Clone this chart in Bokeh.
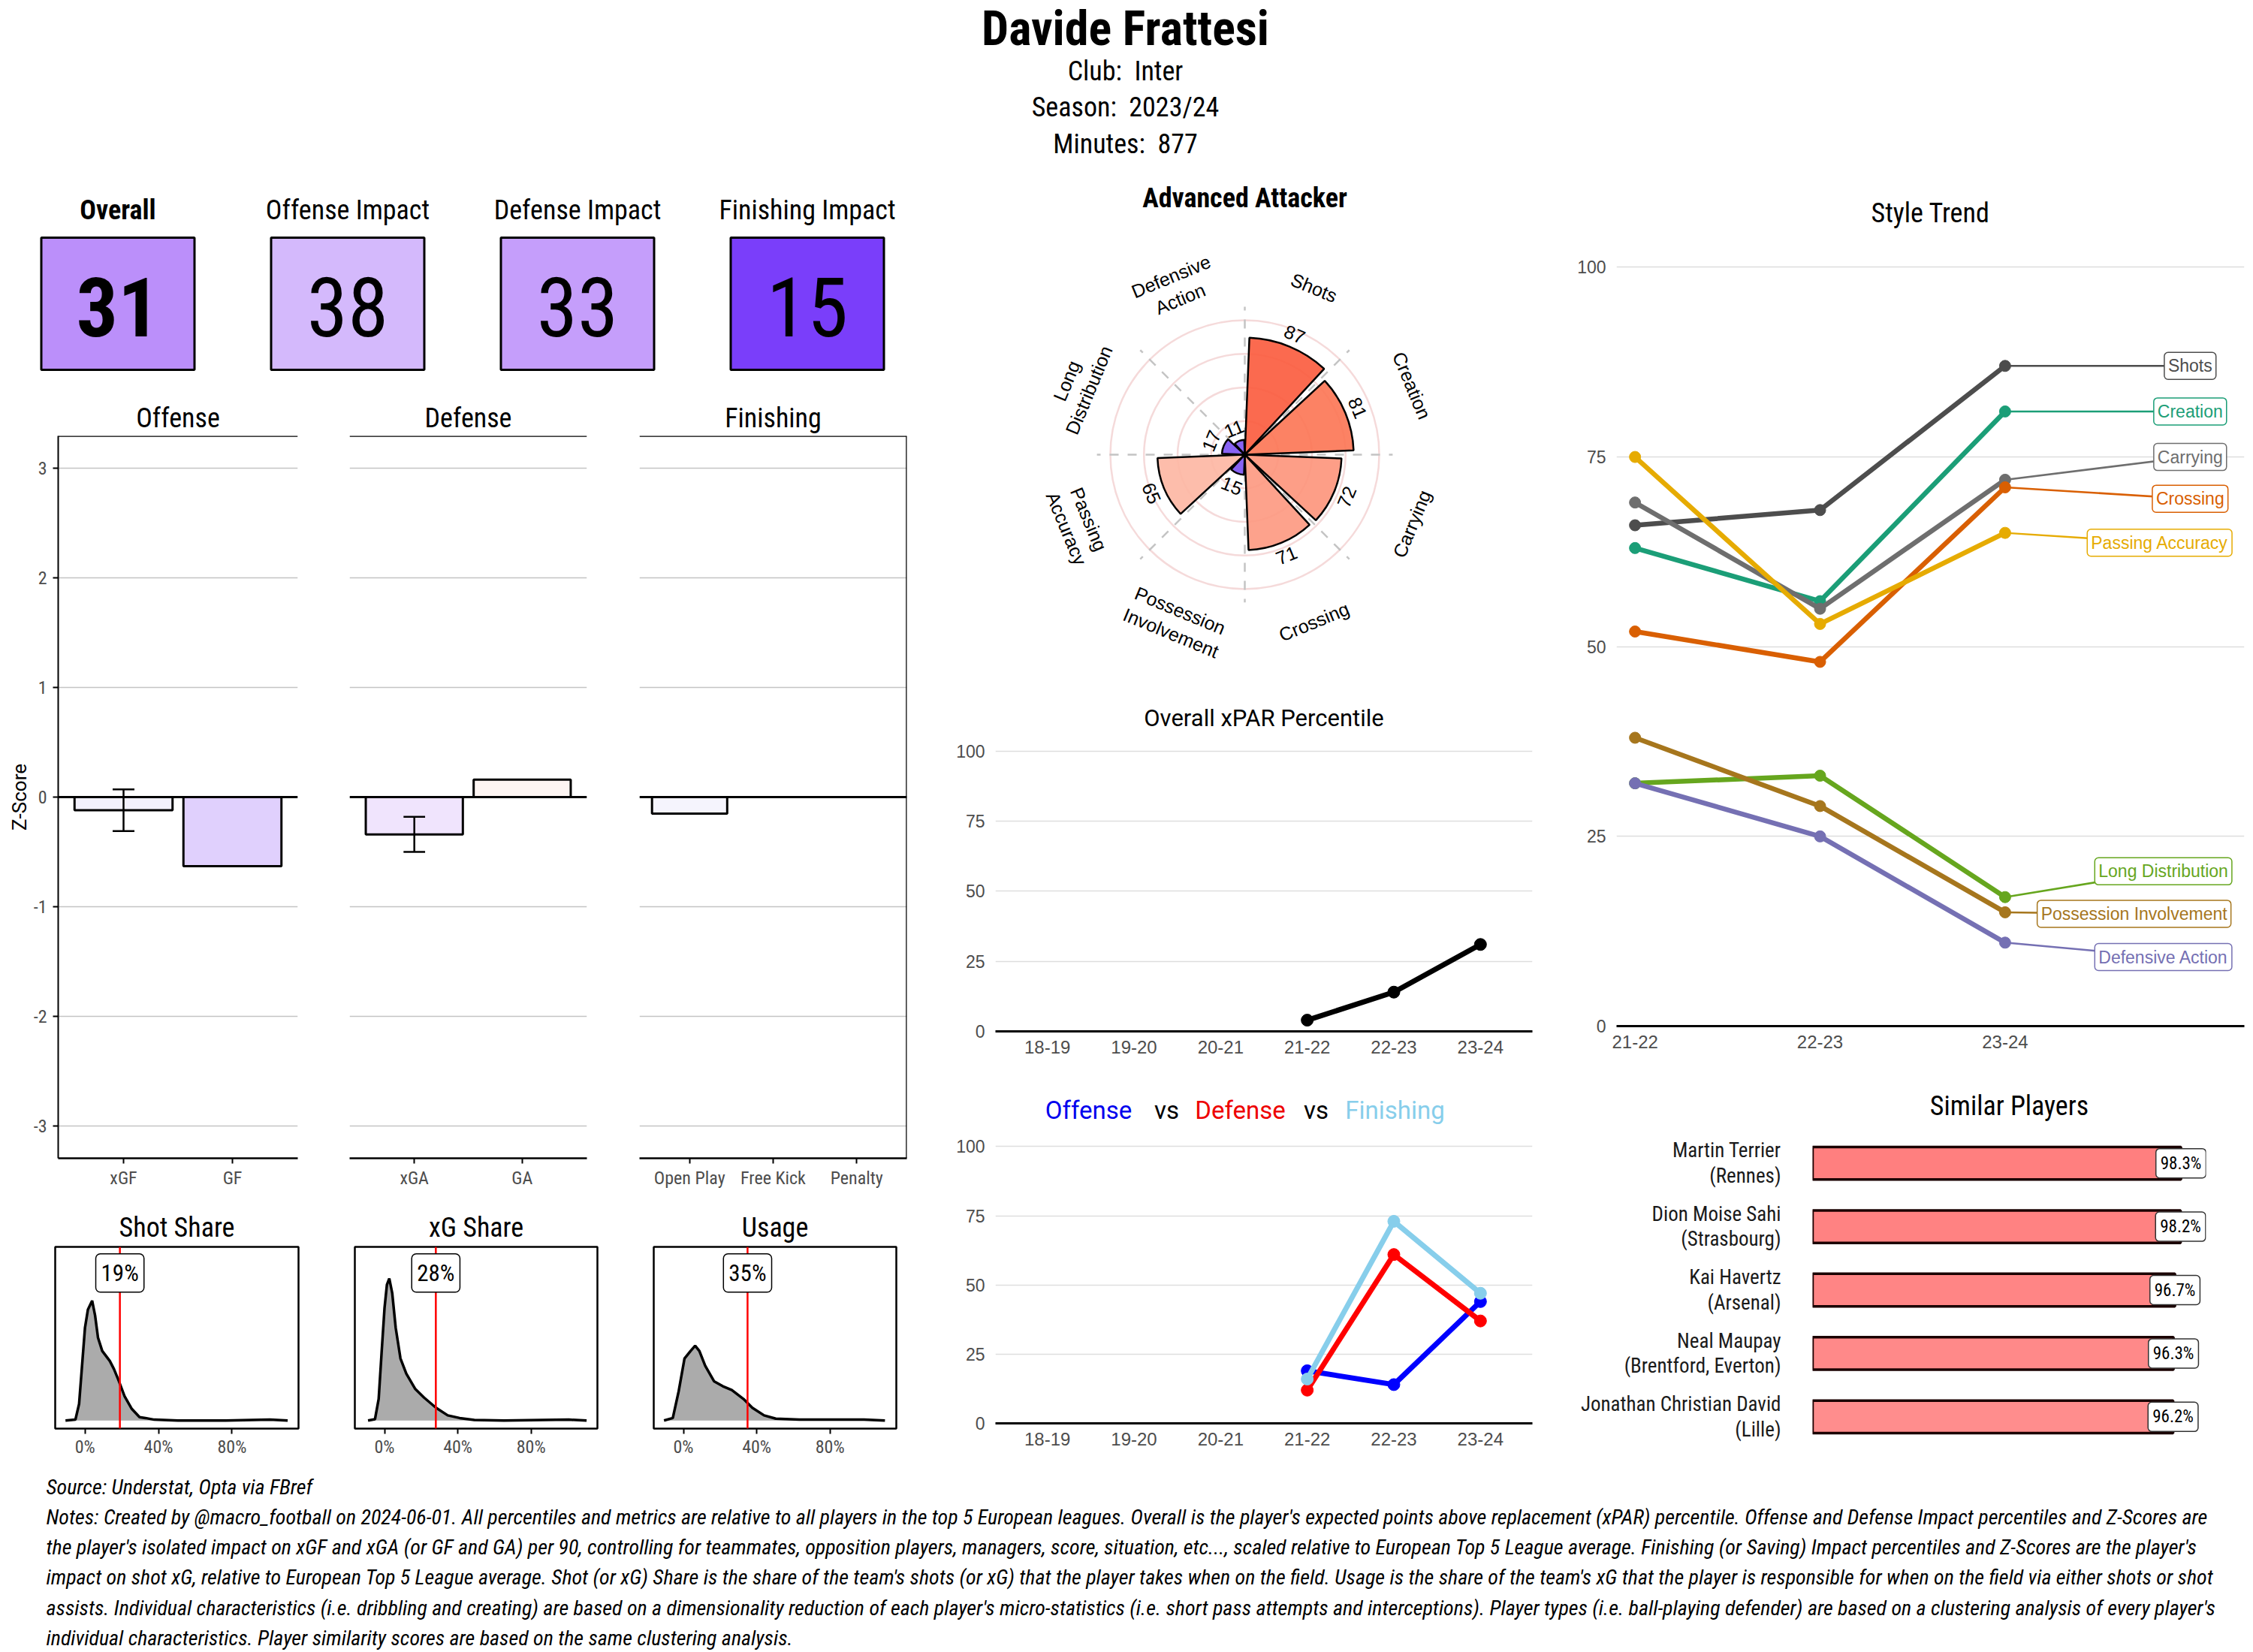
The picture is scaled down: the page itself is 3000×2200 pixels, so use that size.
import numpy as np
from bokeh.plotting import figure
from bokeh.layouts import row, column
from bokeh.models import (Range1d, FixedTicker, Span, Label, Grid, LinearAxis, Title,
                          NumeralTickFormatter)
from bokeh.core.properties import value
from bokeh.embed import file_html
from bokeh.resources import INLINE

COND = "'Liberation Sans Narrow', 'Roboto Condensed', Roboto, sans-serif"
ARIAL = "'Liberation Sans', Arial, sans-serif"
ROBOTO = "Roboto, sans-serif"
GRAYTXT = "#4D4D4D"
NBSP = "\u00a0"

# ---------------- data ----------------
player_name = "Davide Frattesi"
club_name = "Inter"
season_name = "2023/24"
minutes_played = 877

score_labels = ["Overall", "Offense Impact", "Defense Impact", "Finishing Impact"]
score_values = [31, 38, 33, 15]
score_colors = ["#BB8FFA", "#D4B9FC", "#C59EFB", "#7A3EFA"]

z_ticks = [-3, -2, -1, 0, 1, 2, 3]
off_cats = ["xGF", "GF"]
off_vals = [-0.12, -0.63]
off_colors = ["#F3F1FD", "#E0D0FD"]
off_err_cat = ["xGF"]
off_err_lo = [-0.31]
off_err_hi = [0.07]
def_cats = ["xGA", "GA"]
def_vals = [-0.34, 0.16]
def_colors = ["#F0E4FD", "#FDF5F2"]
def_err_cat = ["xGA"]
def_err_lo = [-0.50]
def_err_hi = [-0.18]
fin_cats = ["Open Play", "Free Kick", "Penalty"]
fin_vals = [-0.15, 0.0, 0.0]
fin_colors = ["#F5F4FD", "#FFFFFF", "#FFFFFF"]

share_titles = ["Shot Share", "xG Share", "Usage"]
share_values = [0.19, 0.28, 0.35]
shot_dens_x = [-0.106, -0.052, -0.032, -0.016, 0.0, 0.016, 0.039, 0.055, 0.071, 0.094, 0.135,
               0.158, 0.184, 0.216, 0.255, 0.297, 0.329, 0.377, 0.506, 0.765, 1.006, 1.103]
shot_dens_y = [0.0, 0.005, 0.10, 0.33, 0.56, 0.67, 0.724, 0.635, 0.50, 0.42, 0.36,
               0.31, 0.24, 0.145, 0.07, 0.02, 0.015, 0.005, 0.0, 0.0, 0.005, 0.0]
xg_dens_x = [-0.09, -0.052, -0.032, -0.016, 0.0, 0.013, 0.026, 0.042, 0.061, 0.087, 0.119,
             0.168, 0.216, 0.281, 0.345, 0.41, 0.49, 0.652, 1.006, 1.103]
xg_dens_y = [0.0, 0.008, 0.13, 0.41, 0.68, 0.82, 0.858, 0.77, 0.56, 0.375, 0.283,
             0.19, 0.138, 0.077, 0.031, 0.015, 0.003, 0.0, 0.005, 0.0]
usage_dens_x = [-0.106, -0.058, -0.026, 0.006, 0.039, 0.064, 0.087, 0.119, 0.167, 0.215,
                0.264, 0.328, 0.376, 0.44, 0.504, 0.632, 0.986, 1.10]
usage_dens_y = [0.0, 0.015, 0.176, 0.375, 0.42, 0.452, 0.42, 0.33, 0.237, 0.207,
                0.184, 0.13, 0.077, 0.031, 0.011, 0.005, 0.005, 0.0]

radar_title = "Advanced Attacker"
radar_cats = ["Shots", "Creation", "Carrying", "Crossing", "Possession\nInvolvement",
              "Passing\nAccuracy", "Long\nDistribution", "Defensive\nAction"]
radar_vals = [87, 81, 72, 71, 15, 65, 17, 11]
radar_colors = ["#FB5A3C", "#FC7453", "#FD937A", "#FD987F", "#7B52F3",
                "#FDB6A2", "#7B52F3", "#7B52F3"]

seasons = ["18-19", "19-20", "20-21", "21-22", "22-23", "23-24"]
xpar_seasons = ["21-22", "22-23", "23-24"]
xpar_vals = [4, 14, 31]
offense_pct = [19, 14, 44]
defense_pct = [12, 61, 37]
finishing_pct = [16, 73, 47]

style_seasons = ["21-22", "22-23", "23-24"]
style_names = ["Shots", "Creation", "Carrying", "Crossing", "Passing Accuracy",
               "Long Distribution", "Possession Involvement", "Defensive Action"]
shots_t = [66, 68, 87]
creation_t = [63, 56, 81]
carrying_t = [69, 55, 72]
crossing_t = [52, 48, 71]
passing_t = [75, 53, 65]
longdist_t = [32, 33, 17]
possession_t = [38, 29, 15]
defensive_t = [32, 25, 11]
style_colors = ["#4D4D4D", "#1B9E77", "#6E6E6E", "#D95F02", "#E6AB02",
                "#66A61E", "#A6761D", "#7570B3"]
style_label_x = [4.0, 4.0, 4.0, 4.0, 3.835, 3.855, 3.697, 3.855]
style_label_y = [87, 81, 75, 69.5, 63.7, 20.4, 14.8, 9.1]

similar_names = ["Martin Terrier\n(Rennes)", "Dion Moise Sahi\n(Strasbourg)",
                 "Kai Havertz\n(Arsenal)", "Neal Maupay\n(Brentford, Everton)",
                 "Jonathan Christian David\n(Lille)"]
similar_vals = [98.3, 98.2, 96.7, 96.3, 96.2]
similar_colors = ["#FF7F7F", "#FF8282", "#FF8585", "#FF8989", "#FF8D8D"]

notes_lines = [
    "Source: Understat, Opta via FBref",
    "Notes: Created by @macro_football on 2024-06-01. All percentiles and metrics are relative to all players in the top 5 European leagues. Overall is the player's expected points above replacement (xPAR) percentile. Offense and Defense Impact percentiles and Z-Scores are",
    "the player's isolated impact on xGF and xGA (or GF and GA) per 90, controlling for teammates, opposition players, managers, score, situation, etc..., scaled relative to European Top 5 League average. Finishing (or Saving) Impact percentiles and Z-Scores are the player's",
    "impact on shot xG, relative to European Top 5 League average. Shot (or xG) Share is the share of the team's shots (or xG) that the player takes when on the field. Usage is the share of the team's xG that the player is responsible for when on the field via either shots or shot",
    "assists. Individual characteristics (i.e. dribbling and creating) are based on a dimensionality reduction of each player's micro-statistics (i.e. short pass attempts and interceptions). Player types (i.e. ball-playing defender) are based on a clustering analysis of every player's",
    "individual characteristics. Player similarity scores are based on the same clustering analysis.",
]


# ---------------- helpers ----------------
def base(w, h, xr, yr, l=0, r=0, t=0, b=0):
    p = figure(width=w, height=h, x_range=xr, y_range=yr, output_backend="svg",
               toolbar_location=None, x_axis_location=None, y_axis_location=None,
               min_border_left=l, min_border_right=r, min_border_top=t, min_border_bottom=b)
    p.outline_line_color = None
    p.grid.visible = False
    p.background_fill_color = "white"
    p.border_fill_color = "white"
    return p


def set_title(p, text, font=COND, size="36px", style="normal", standoff=6):
    p.title = Title(text=text, align="center", text_font=font, text_font_size=size,
                    text_font_style=style, text_color="black", standoff=standoff)


def hgrid(p, ticks, color="#DDDDDD", width=1.5):
    p.add_layout(Grid(dimension=1, ticker=FixedTicker(ticks=ticks),
                      grid_line_color=color, grid_line_width=width))


def style_axis(ax, font, size, color=GRAYTXT, line=None, lw=2.5, tick_out=0, standoff=8):
    ax.major_label_text_font = font
    ax.major_label_text_font_size = size
    ax.major_label_text_color = color
    ax.axis_line_color = line
    ax.axis_line_width = lw
    ax.major_tick_out = tick_out
    ax.major_tick_in = 0
    ax.major_tick_line_color = "black" if tick_out else None
    ax.major_tick_line_width = 2
    ax.minor_tick_line_color = None
    ax.major_label_standoff = standoff


# ---------------- header ----------------
header = base(3000, 223, Range1d(0, 3000), Range1d(0, 223))
header.text(x=[1498], y=[185], text=[player_name], text_font=value(COND), text_font_size="64px",
            text_font_style="bold", text_align="center", text_baseline="middle", text_color="black")
header.text(x=[1498, 1498, 1498], y=[129, 81, 32],
            text=["Club:" + NBSP + " " + club_name, "Season:" + NBSP + " " + season_name,
                  "Minutes:" + NBSP + " " + str(minutes_played)],
            text_font=value(COND), text_font_size="36px", text_align="center",
            text_baseline="middle", text_color="black")

# ---------------- score boxes ----------------
sc = base(1248, 297, Range1d(0.4886, 4.567), Range1d(0, 297))
sidx = list(range(1, len(score_values) + 1))
sc.rect(x=sidx, y=[116] * 4, width=204, height=176, width_units="screen", height_units="screen",
        fill_color=score_colors, line_color="black", line_width=3)
sc.text(x=sidx, y=[112] * 4, text=[str(v) for v in score_values], text_font=value(COND),
        text_font_size="110px", text_font_style=["bold", "normal", "normal", "normal"],
        text_align="center", text_baseline="middle", text_color="black")
sc.text(x=sidx, y=[241] * 4, text=score_labels, text_font=value(COND), text_font_size="36px",
        text_font_style=["bold", "normal", "normal", "normal"], text_align="center",
        text_baseline="middle", text_color="black")


# ---------------- z-score facets ----------------
def zpanel(w, l, r, cats, vals, colors, title, err_cat, err_lo, err_hi, left_axis=False, right_border=False):
    n = len(cats)
    p = base(w, 1080, Range1d(0.4, n + 0.6), Range1d(-3.295, 3.295), l=l, r=r, t=60, b=58)
    hgrid(p, z_ticks, color="#C4C4C4", width=1.5)
    xs = list(range(1, n + 1))
    p.vbar(x=xs, top=vals, bottom=0, width=0.9, fill_color=colors, line_color="black", line_width=3)
    ex = [cats.index(c) + 1 for c in err_cat]
    p.segment(x0=ex, y0=err_lo, x1=ex, y1=err_hi, line_color="black", line_width=2.5)
    p.segment(x0=[e - 0.1 for e in ex] * 2, y0=err_lo + err_hi,
              x1=[e + 0.1 for e in ex] * 2, y1=err_lo + err_hi, line_color="black", line_width=2.5)
    p.add_layout(Span(location=0, dimension="width", line_color="black", line_width=3))
    p.add_layout(Span(location=3.295, dimension="width", line_color="black", line_width=2.5))
    if right_border:
        p.add_layout(Span(location=n + 0.6, dimension="height", line_color="black", line_width=2.5))
    ax = LinearAxis(ticker=FixedTicker(ticks=xs), major_label_overrides={i + 1: c for i, c in enumerate(cats)})
    style_axis(ax, COND, "24px", line="black", tick_out=7, standoff=5)
    p.add_layout(ax, "below")
    if left_axis:
        ay = LinearAxis(ticker=FixedTicker(ticks=z_ticks),
                        major_label_overrides={t: str(t) for t in z_ticks})
        style_axis(ay, COND, "24px", line="black", lw=2, tick_out=7, standoff=8)
        ay.axis_label = "Z-Score"
        ay.axis_label_text_font = ROBOTO
        ay.axis_label_text_font_size = "26px"
        ay.axis_label_text_font_style = "normal"
        ay.axis_label_text_color = "black"
        ay.axis_label_standoff = 1
        p.add_layout(ay, "left")
    set_title(p, title, standoff=5)
    return p


zoff = zpanel(428, 77, 32, off_cats, off_vals, off_colors, "Offense", off_err_cat, off_err_lo, off_err_hi,
              left_axis=True)
zdef = zpanel(388, 37, 35, def_cats, def_vals, def_colors, "Defense", def_err_cat, def_err_lo, def_err_hi)
zfin = zpanel(432, 35, 41, fin_cats, fin_vals, fin_colors, "Finishing", [], [], [], right_border=True)


# ---------------- density panels ----------------
def dpanel(w, l, r, xs, ys, val, title):
    p = base(w, 358, Range1d(-0.162, 1.162), Range1d(-0.049, 1.049), l=l, r=r, t=60, b=56)
    p.outline_line_color = "black"
    p.outline_line_width = 2.5
    p.varea(x=xs, y1=[0] * len(xs), y2=ys, fill_color="#ABABAB")
    p.line(x=xs, y=ys, line_color="black", line_width=3.5)
    p.add_layout(Span(location=val, dimension="height", line_color="#FF0000", line_width=2.5))
    p.add_layout(Label(x=val, y=0.891, text=f"{round(val * 100)}%", text_align="center",
                       text_baseline="middle", text_font=COND, text_font_size="31px", text_color="black",
                       background_fill_color="white", border_line_color="black", border_line_width=1.5,
                       padding=7, border_radius=6))
    ax = LinearAxis(ticker=FixedTicker(ticks=[0, 0.4, 0.8]), formatter=NumeralTickFormatter(format="0%"))
    style_axis(ax, COND, "24px", line=None, tick_out=7, standoff=3)
    p.add_layout(ax, "below")
    set_title(p, title, standoff=9)
    return p


d1 = dpanel(438, 73, 41, shot_dens_x, shot_dens_y, share_values[0], share_titles[0])
d2 = dpanel(400, 34, 43, xg_dens_x, xg_dens_y, share_values[1], share_titles[1])
d3 = dpanel(410, 32, 55, usage_dens_x, usage_dens_y, share_values[2], share_titles[2])

# ---------------- radar ----------------
rd = base(820, 697, Range1d(-228.5, 229.6), Range1d(-176, 213.4))
rd.circle(x=[0] * 4, y=[0] * 4, radius=[25, 50, 75, 100], fill_color=None,
          line_color="#F5DADA", line_width=2.5)
nr = len(radar_vals)
step = 360.0 / nr
bounds = [i * step for i in range(nr)]
rd.segment(x0=[0] * nr, y0=[0] * nr, x1=[110 * np.sin(np.deg2rad(b)) for b in bounds],
           y1=[110 * np.cos(np.deg2rad(b)) for b in bounds], line_color="#C4C4C4",
           line_width=2.5, line_dash="12 12")
starts = [np.deg2rad(90 - (i * step + step * 0.95)) for i in range(nr)]
ends = [np.deg2rad(90 - (i * step + step * 0.05)) for i in range(nr)]
rd.wedge(x=[0] * nr, y=[0] * nr, radius=radar_vals, start_angle=starts, end_angle=ends,
         fill_color=radar_colors, fill_alpha=0.9, line_color="black", line_width=2.5)


def tang(theta):
    a = -theta
    if 90 < theta < 270:
        a += 180
    return np.deg2rad(a)


centers = [i * step + step / 2 for i in range(nr)]
vr = [v + 10 for v in radar_vals]
rd.text(x=[r * np.sin(np.deg2rad(c)) for r, c in zip(vr, centers)],
        y=[r * np.cos(np.deg2rad(c)) for r, c in zip(vr, centers)],
        text=[str(v) for v in radar_vals], angle=[tang(c) for c in centers],
        text_font=value(ARIAL), text_font_size="25px", text_align="center", text_baseline="middle",
        text_color="black")
rd.text(x=[134.5 * np.sin(np.deg2rad(c)) for c in centers],
        y=[134.5 * np.cos(np.deg2rad(c)) for c in centers],
        text=radar_cats, angle=[tang(c) for c in centers],
        text_font=value(ARIAL), text_font_size="25px", text_align="center", text_baseline="middle",
        text_color="black", text_line_height=1.15)
rd.text(x=[0], y=[190.5], text=[radar_title], text_font=value(COND), text_font_size="36px",
        text_font_style="bold", text_align="center", text_baseline="middle", text_color="black")


# ---------------- season line charts ----------------
def season_fig(h, t, b):
    p = base(820, h, Range1d(0.4, len(seasons) + 0.6), Range1d(0, 105), l=77, r=28, t=t, b=b)
    hgrid(p, [0, 25, 50, 75, 100], color="#DEDEDE")
    ax = LinearAxis(ticker=FixedTicker(ticks=list(range(1, len(seasons) + 1))),
                    major_label_overrides={i + 1: s for i, s in enumerate(seasons)})
    style_axis(ax, ARIAL, "24px", line="black", lw=3, standoff=12)
    p.add_layout(ax, "below")
    ay = LinearAxis(ticker=FixedTicker(ticks=[0, 25, 50, 75, 100]))
    style_axis(ay, ARIAL, "23px", line=None, standoff=14)
    p.add_layout(ay, "left")
    return p


xp = season_fig(520, 61, 67)
xpx = [seasons.index(s) + 1 for s in xpar_seasons]
xp.line(x=xpx, y=xpar_vals, line_color="black", line_width=7)
xp.scatter(x=xpx, y=xpar_vals, size=16, color="black")
set_title(xp, "Overall xPAR Percentile", font=ROBOTO, size="31px", standoff=14)

strip = base(820, 68, Range1d(0, 820), Range1d(0, 68))
strip.text(x=[201, 305, 403, 504, 609], y=[30] * 5,
           text=["Offense", "vs", "Defense", "vs", "Finishing"],
           text_color=["#0000EE", "black", "#EE0000", "black", "#87CEEB"],
           text_font=value(ROBOTO), text_font_size="33px", text_align="center", text_baseline="middle")

ov = season_fig(450, 0, 63)
for vals, col in [(offense_pct, "#0000FF"), (defense_pct, "#FF0000"), (finishing_pct, "#87CEEB")]:
    ov.line(x=xpx, y=vals, line_color=col, line_width=7)
    ov.scatter(x=xpx, y=vals, size=16, color=col)

# ---------------- style trend ----------------
st = base(932, 1217, Range1d(0.9, 4.293), Range1d(0, 104), l=84, r=12, t=92, b=74)
hgrid(st, [0, 25, 50, 75, 100], color="#DDDDDD")
sax = LinearAxis(ticker=FixedTicker(ticks=[1, 2, 3]),
                 major_label_overrides={i + 1: s for i, s in enumerate(style_seasons)})
style_axis(sax, ARIAL, "24px", line="black", lw=3, standoff=12)
st.add_layout(sax, "below")
say = LinearAxis(ticker=FixedTicker(ticks=[0, 25, 50, 75, 100]))
style_axis(say, ARIAL, "23px", line=None, standoff=14)
st.add_layout(say, "left")
style_series = [shots_t, creation_t, carrying_t, crossing_t, passing_t, longdist_t, possession_t, defensive_t]
sx = [1, 2, 3]
for name, vals, col, lx, ly in zip(style_names, style_series, style_colors, style_label_x, style_label_y):
    st.segment(x0=[sx[-1]], y0=[vals[-1]], x1=[lx], y1=[ly], line_color=col, line_width=2.5)
for name, vals, col in zip(style_names, style_series, style_colors):
    st.line(x=sx, y=vals, line_color=col, line_width=6.5)
    st.scatter(x=sx, y=vals, size=15, color=col)
for name, col, lx, ly in zip(style_names, style_colors, style_label_x, style_label_y):
    st.add_layout(Label(x=lx, y=ly, text=name, text_align="center", text_baseline="middle",
                        text_font=ARIAL, text_font_size="23px", text_color=col,
                        background_fill_color="white", border_line_color=col, border_line_width=1.5,
                        padding=5, border_radius=5))
set_title(st, "Style Trend", standoff=22)

# ---------------- similar players ----------------
sm = base(932, 518, Range1d(0, 105), Range1d(len(similar_vals) + 0.6, 0.4), l=345, r=63, t=58, b=21)
yi = list(range(1, len(similar_vals) + 1))
sm.hbar(y=yi, left=0, right=similar_vals, height=0.514, fill_color=similar_colors,
        line_color="#1A0000", line_width=3.5)
for v, y in zip(similar_vals, yi):
    sm.add_layout(Label(x=v, y=y, text=f"{v}%", text_align="center", text_baseline="middle",
                        text_font=COND, text_font_size="23px", text_color="black",
                        background_fill_color="white", border_line_color="#333333", border_line_width=1.5,
                        padding=6, border_radius=5))
smy = LinearAxis(ticker=FixedTicker(ticks=yi), major_label_overrides={i: n for i, n in zip(yi, similar_names)})
style_axis(smy, COND, "27px", color="#1A1A1A", line=None, standoff=42)
smy.major_label_text_line_height = 1.05
sm.add_layout(smy, "left")
set_title(sm, "Similar Players", standoff=9)

# ---------------- notes ----------------
nt = base(3000, 242, Range1d(0, 3000), Range1d(0, 242))
nt.text(x=[61] * len(notes_lines), y=[220, 180, 140, 100, 59, 19], text=notes_lines,
        text_font=value(COND), text_font_size="28px", text_font_style="italic",
        text_align="left", text_baseline="middle", text_color="black")

# ---------------- layout (each plot wrapped so frames are not aligned) ----------------
left_col = column(row(sc), row(zoff, zdef, zfin, spacing=0), row(d1, d2, d3, spacing=0), spacing=0)
mid_col = column(row(rd), row(xp), row(strip), row(ov), spacing=0)
right_col = column(row(st), row(sm), spacing=0)
page = column(row(header), row(left_col, mid_col, right_col, spacing=0), row(nt), spacing=0)

open("out.html", "w").write(file_html(page, INLINE))
